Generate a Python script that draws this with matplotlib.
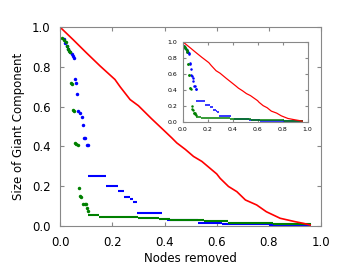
import matplotlib
matplotlib.use('Agg')
import matplotlib.pyplot as plt

# red curve
red_x = [0.0, 0.05, 0.1, 0.153, 0.21, 0.23, 0.268, 0.3, 0.35, 0.4, 0.428, 0.447, 0.48, 0.511,
         0.543, 0.6, 0.613, 0.645, 0.677, 0.71, 0.753, 0.79, 0.843, 0.9, 0.932, 0.958]
red_y = [1.0, 0.937, 0.872, 0.805, 0.737, 0.70, 0.636, 0.605, 0.54, 0.478, 0.443, 0.418, 0.385, 0.35,
         0.325, 0.262, 0.24, 0.199, 0.173, 0.131, 0.106, 0.072, 0.039, 0.022, 0.0135, 0.005]

# blue: isolated points, then flat runs
blue_px = [0.013, 0.02, 0.026, 0.032, 0.038, 0.045, 0.05, 0.054, 0.057, 0.061, 0.066,
           0.07, 0.077, 0.083, 0.087, 0.093, 0.097, 0.104, 0.107]
blue_py = [0.943, 0.92, 0.905, 0.889, 0.875, 0.864, 0.855, 0.847, 0.737, 0.72, 0.662,
           0.577, 0.569, 0.547, 0.51, 0.444, 0.444, 0.409, 0.409]
blue_x0 = [0.108, 0.176, 0.223, 0.245, 0.266, 0.279, 0.294, 0.41, 0.53, 0.62, 0.8]
blue_x1 = [0.176, 0.223, 0.246, 0.266, 0.279, 0.294, 0.39, 0.53, 0.62, 0.8, 0.96]
blue_y = [0.254, 0.203, 0.177, 0.148, 0.135, 0.123, 0.064, 0.028, 0.016, 0.008, 0.004]

# green: isolated points, then flat runs
green_px = [0.009, 0.016, 0.023, 0.028, 0.032, 0.035, 0.038, 0.042, 0.045, 0.049, 0.052,
            0.057, 0.062, 0.068, 0.072, 0.077, 0.08, 0.089, 0.094, 0.1, 0.103, 0.105]
green_py = [0.948, 0.935, 0.926, 0.905, 0.889, 0.88, 0.875, 0.717, 0.714, 0.582, 0.577,
            0.42, 0.415, 0.41, 0.19, 0.153, 0.145, 0.113, 0.113, 0.112, 0.089, 0.077]
green_x0 = [0.105, 0.147, 0.3, 0.377, 0.42, 0.55, 0.645, 0.815]
green_x1 = [0.147, 0.3, 0.377, 0.42, 0.55, 0.645, 0.815, 0.96]
green_y = [0.057, 0.045, 0.039, 0.035, 0.03, 0.025, 0.016, 0.009]

ticks = [0.0, 0.2, 0.4, 0.6, 0.8, 1.0]
spine_col = '#888888'


def draw(ax, lw, ms):
    ax.plot(blue_px, blue_py, 'o', color='blue', ms=ms, mew=0)
    ax.hlines(blue_y, blue_x0, blue_x1, color='blue', lw=lw)
    ax.plot(green_px, green_py, 'o', color='green', ms=ms, mew=0)
    ax.hlines(green_y, green_x0, green_x1, color='green', lw=lw)
    ax.plot(red_x, red_y, '-', color='red', lw=lw * 0.8)
    ax.set_xlim(0, 1.0)
    ax.set_ylim(0, 1.0)
    ax.set_xticks(ticks)
    ax.set_yticks(ticks)
    for s in ax.spines.values():
        s.set_color(spine_col)


fig = plt.figure(figsize=(3.58, 2.72), dpi=100)
ax = fig.add_axes([0.168, 0.169, 0.729, 0.731])
draw(ax, 1.5, 2.5)
ax.tick_params(direction='in', length=3, color=spine_col, top=True, right=True,
               labelsize=8.5, pad=7)
ax.set_xlabel('Nodes removed', fontsize=8.5, labelpad=2)
ax.set_ylabel('Size of Giant Component', fontsize=8.5, labelpad=5)

ins = fig.add_axes([0.510, 0.553, 0.349, 0.294])
draw(ins, 1.1, 1.8)
ins.tick_params(direction='in', length=2, color=spine_col, top=True, right=True,
                labelsize=4.5, pad=4)

fig.savefig('out.png', dpi=100)
